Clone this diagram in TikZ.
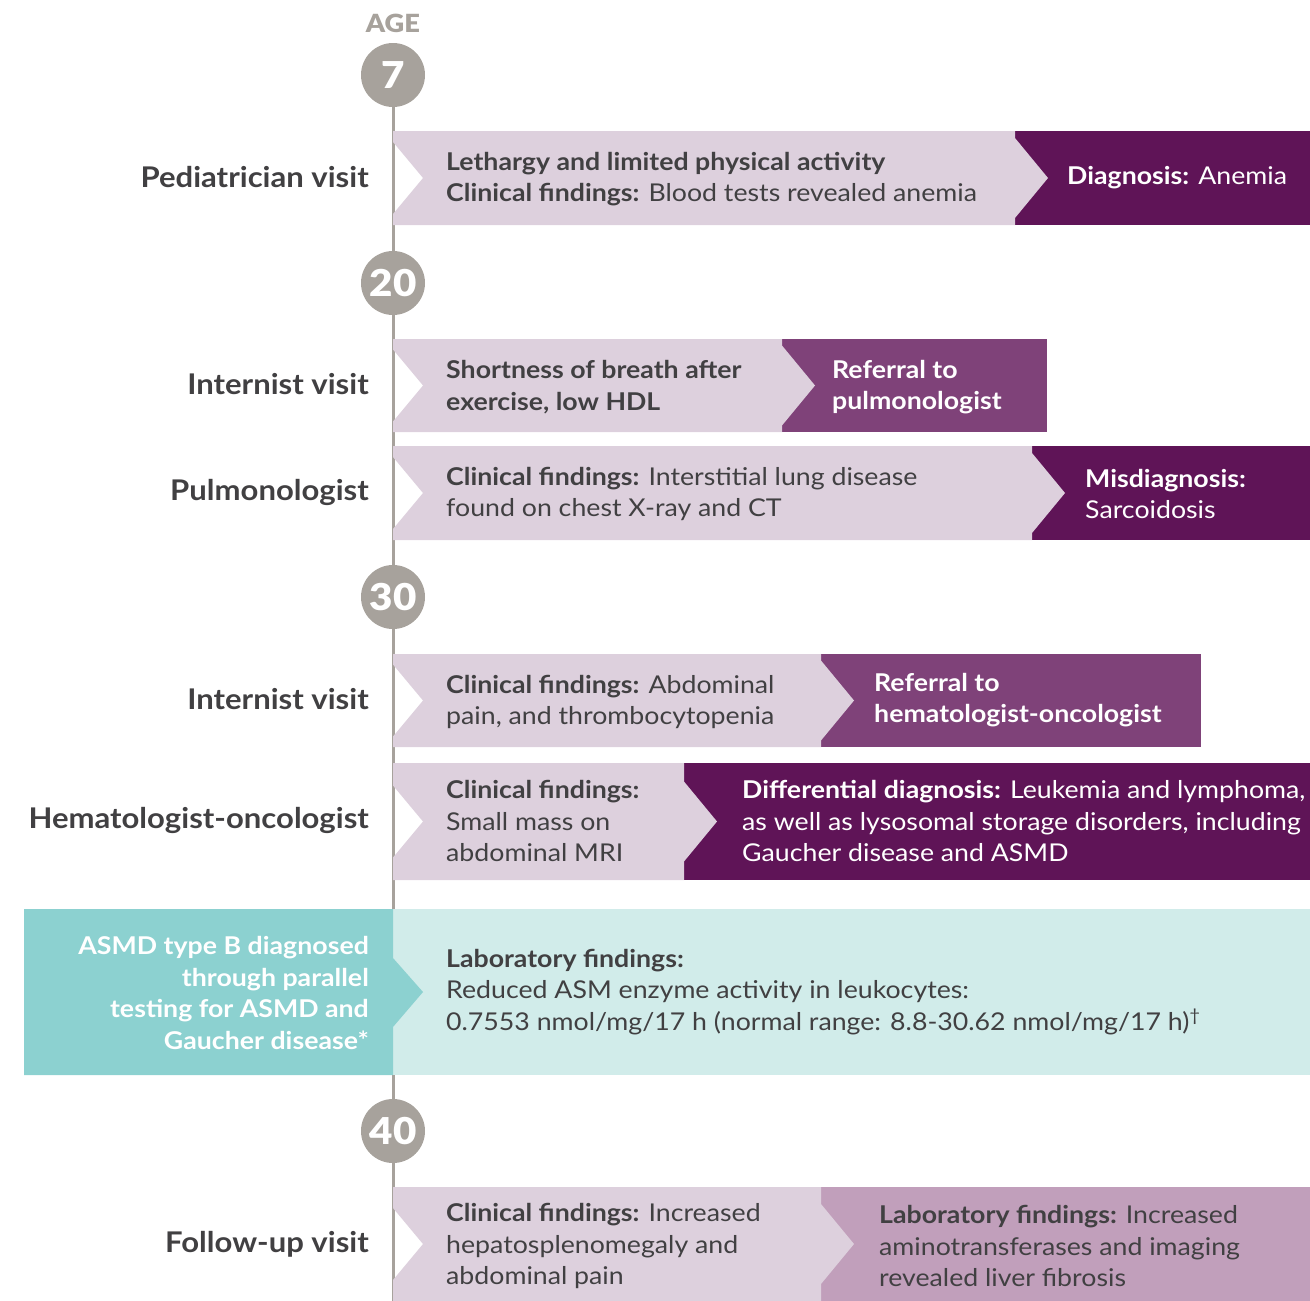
\documentclass[tikz,border=0pt]{standalone}
\usepackage{fontspec}
\setmainfont{Lato}[FakeStretch=1.09]
\newfontfamily\heavyfont{Lato Black}[FakeStretch=1.09]
\usetikzlibrary{positioning}
\definecolor{lilac}{HTML}{DDD0DD}
\definecolor{plum}{HTML}{5F1457}
\definecolor{orchid}{HTML}{7F4279}
\definecolor{mauve}{HTML}{C19FBB}
\definecolor{teal}{HTML}{8CD1D0}
\definecolor{paleteal}{HTML}{D1ECEA}
\definecolor{stone}{HTML}{A7A29C}
\definecolor{ink}{HTML}{414042}
\newcommand{\band}[5]{% top, bottom, split, right colour, right end
  \pgfmathsetmacro\bandmid{(#1+#2)/2}
  \fill[#4] (#3,#1) rectangle (#5,#2);
  \fill[lilac] (393,#1) -- (#3,#1) -- (#3,\bandmid-40) -- (#3+33,\bandmid)
    -- (#3,\bandmid+40) -- (#3,#2) -- (393,#2) -- (393,\bandmid+36)
    -- (423,\bandmid) -- (393,\bandmid-36) -- cycle;
}

\begin{document}
\begin{tikzpicture}[x=1pt, y=-1pt,
    every node/.style={inner sep=0pt, font=\fontsize{24.5}{31.5}\selectfont, text=ink},
    visit/.style={anchor=east, font=\fontsize{28.5}{34}\selectfont\bfseries},
    note/.style={anchor=west, align=left},
    verdict/.style={note, text=white},
    agedot/.style={circle, fill=stone, minimum size=64pt, text=white,
      font=\fontsize{37}{37}\heavyfont}]
    \useasboundingbox (0,0) rectangle (1310,1301);

    % timeline
    \node[text=stone, font=\fontsize{25}{25}\heavyfont] (age) at (393,23) {AGE};
    \node[agedot] (a7) at (393,75) {7};
    \node[agedot] (a20) at (393,283) {20};
    \node[agedot] (a30) at (393,597) {30};
    \node[agedot] (a40) at (393,1131) {40};
    \coordinate (end) at (393,1301);
    \draw[stone, line width=3pt] (a7) -- (a20) -- (a30) -- (a40) -- (end);

    % bands
    \band{131}{225}{1015}{plum}{1310}
    \band{339}{432}{782}{orchid}{1047}
    \band{446}{540}{1032}{plum}{1310}
    \band{654}{747}{821}{orchid}{1201}
    \band{763}{880}{684}{plum}{1310}
    \band{1187}{1301}{821}{mauve}{1310}
    \fill[paleteal] (393,909) rectangle (1310,1075);
    \fill[teal] (24,909) -- (393,909) -- (393,958) -- (423,992) -- (393,1027)
      -- (393,1075) -- (24,1075) -- cycle;

    % visits
    \node[visit] (ped) at (369,177) {Pediatrician visit};
    \node[visit] (int1) at (369,384) {Internist visit};
    \node[visit] (pul) at (369,492) {Pulmonologist};
    \node[visit] (int2) at (369,699) {Internist visit};
    \node[visit] (hem) at (369,820) {Hematologist-oncologist};
    \node[visit] (fol) at (369,1244) {Follow-up visit};
    \node[anchor=east, align=right, text=white, font=\fontsize{24.5}{31.5}\selectfont\bfseries]
      (asmd) at (369,993) {ASMD type B diagnosed\\through parallel\\testing for ASMD and\\Gaucher disease*};

    % findings
    \node[note] (f1) at (446,179) {\textbf{Lethargy and limited physical activity}\\
      \textbf{Clinical findings:} Blood tests revealed anemia};
    \node[verdict] (d1) at (1067,178) {\textbf{Diagnosis:} Anemia};
    \node[note, font=\fontsize{24.5}{31.5}\selectfont\bfseries] (f2) at (446,387)
      {Shortness of breath after\\exercise, low HDL};
    \node[verdict, font=\fontsize{24.5}{31.5}\selectfont\bfseries] (d2) at (832,387)
      {Referral to\\pulmonologist};
    \node[note] (f3) at (446,494) {\textbf{Clinical findings:} Interstitial lung disease\\
      found on chest X-ray and CT};
    \node[verdict] (d3) at (1085,494) {\textbf{Misdiagnosis:}\\Sarcoidosis};
    \node[note] (f4) at (446,702) {\textbf{Clinical findings:} Abdominal\\
      pain, and thrombocytopenia};
    \node[verdict, font=\fontsize{24.5}{31.5}\selectfont\bfseries] (d4) at (874,700)
      {Referral to\\hematologist-oncologist};
    \node[note] (f5) at (446,821) {\textbf{Clinical findings:}\\Small mass on\\abdominal MRI};
    \node[verdict] (d5) at (742,821) {\textbf{Differential diagnosis:} Leukemia and lymphoma,\\
      as well as lysosomal storage disorders, including\\Gaucher disease and ASMD};
    \node[note] (f6) at (446,992) {\textbf{Laboratory findings:}\\
      Reduced ASM enzyme activity in leukocytes:\\
      0.7553 nmol/mg/17 h (normal range: 8.8-30.62 nmol/mg/17 h)\textsuperscript{\dag}};
    \node[note] (f7) at (446,1246) {\textbf{Clinical findings:} Increased\\
      hepatosplenomegaly and\\abdominal pain};
    \node[note] (d7) at (879,1246) {\textbf{Laboratory findings:} Increased\\
      aminotransferases and imaging\\revealed liver fibrosis};
\end{tikzpicture}
\end{document}
